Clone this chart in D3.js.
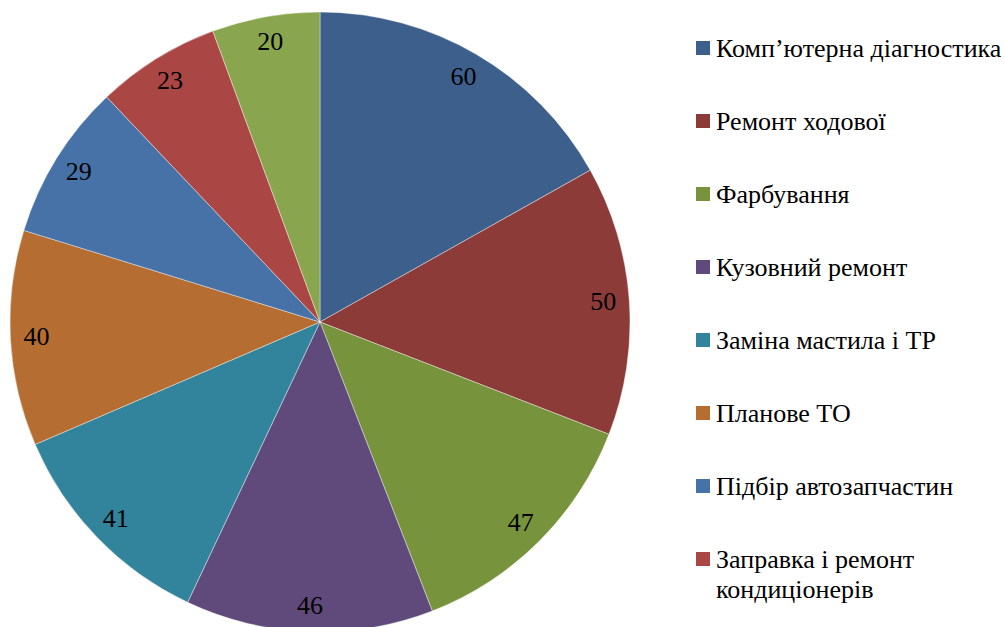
<!DOCTYPE html>
<html>
<head>
<meta charset="utf-8">
<script src="https://cdn.jsdelivr.net/npm/d3@7"></script>
</head>
<body style="margin:0">
<script>
// Дані діаграми
const categories = [
    'Комп’ютерна діагностика',
    'Ремонт ходової',
    'Фарбування',
    'Кузовний ремонт',
    'Заміна мастила і ТР',
    'Планове ТО',
    'Підбір автозапчастин',
    'Заправка і ремонт кондиціонерів'
];
const values = [60, 50, 47, 46, 41, 40, 29, 23, 20];
const colors = ['#3d5f8b', '#8c3b38', '#77933c', '#604a7b', '#31849b', '#b66d31', '#4672a8', '#aa4643', '#89a54e'];

const FONT = "'Liberation Serif'";
const width = 1005;
const height = 627;
const cx = 320, cy = 322, radius = 310;

const svg = d3.select('body')
    .append('svg')
    .attr('width', width)
    .attr('height', height)
    .style('display', 'block')
    .style('font-family', FONT);

const pie = d3.pie().sort(null).value(d => d.value);
const arcs = pie(values.map((v, i) => ({ value: v, color: colors[i] })));

const arc = d3.arc().innerRadius(0).outerRadius(radius);
const labelArc = d3.arc().innerRadius(284).outerRadius(284);

const g = svg.append('g').attr('transform', `translate(${cx},${cy})`);

g.selectAll('path')
    .data(arcs)
    .enter().append('path')
    .attr('d', arc)
    .attr('fill', d => d.data.color)
    .attr('stroke', '#ffffff')
    .attr('stroke-width', 0.4);

// Підписи значень
g.selectAll('text')
    .data(arcs)
    .enter().append('text')
    .attr('transform', d => `translate(${labelArc.centroid(d)})`)
    .attr('text-anchor', 'middle')
    .attr('dy', '0.3em')
    .style('font-family', FONT)
    .style('font-size', '26px')
    .attr('fill', '#000')
    .text(d => d.data.value);

// Легенда (видимі лише перші вісім пунктів, як на оригіналі)
const legendTop = 48, legendStep = 73;
const legend = svg.append('g').attr('transform', 'translate(696,0)');

let y = legendTop;
categories.forEach((name, i) => {
    const item = legend.append('g').attr('transform', `translate(0,${y})`);
    item.append('rect')
        .attr('x', 0).attr('y', -7)
        .attr('width', 14).attr('height', 14)
        .attr('fill', colors[i]);

    // Довгу назву розбиваємо на два рядки
    const lines = name === 'Заправка і ремонт кондиціонерів'
        ? ['Заправка і ремонт', 'кондиціонерів'] : [name];
    const txt = item.append('text')
        .style('font-family', FONT)
        .style('font-size', '26px')
        .attr('fill', '#000');
    lines.forEach((line, j) => {
        txt.append('tspan')
            .attr('x', 20)
            .attr('y', j * 30)
            .attr('dy', '0.35em')
            .text(line);
    });
    y += legendStep + (lines.length - 1) * 30;
});
</script>
</body>
</html>
